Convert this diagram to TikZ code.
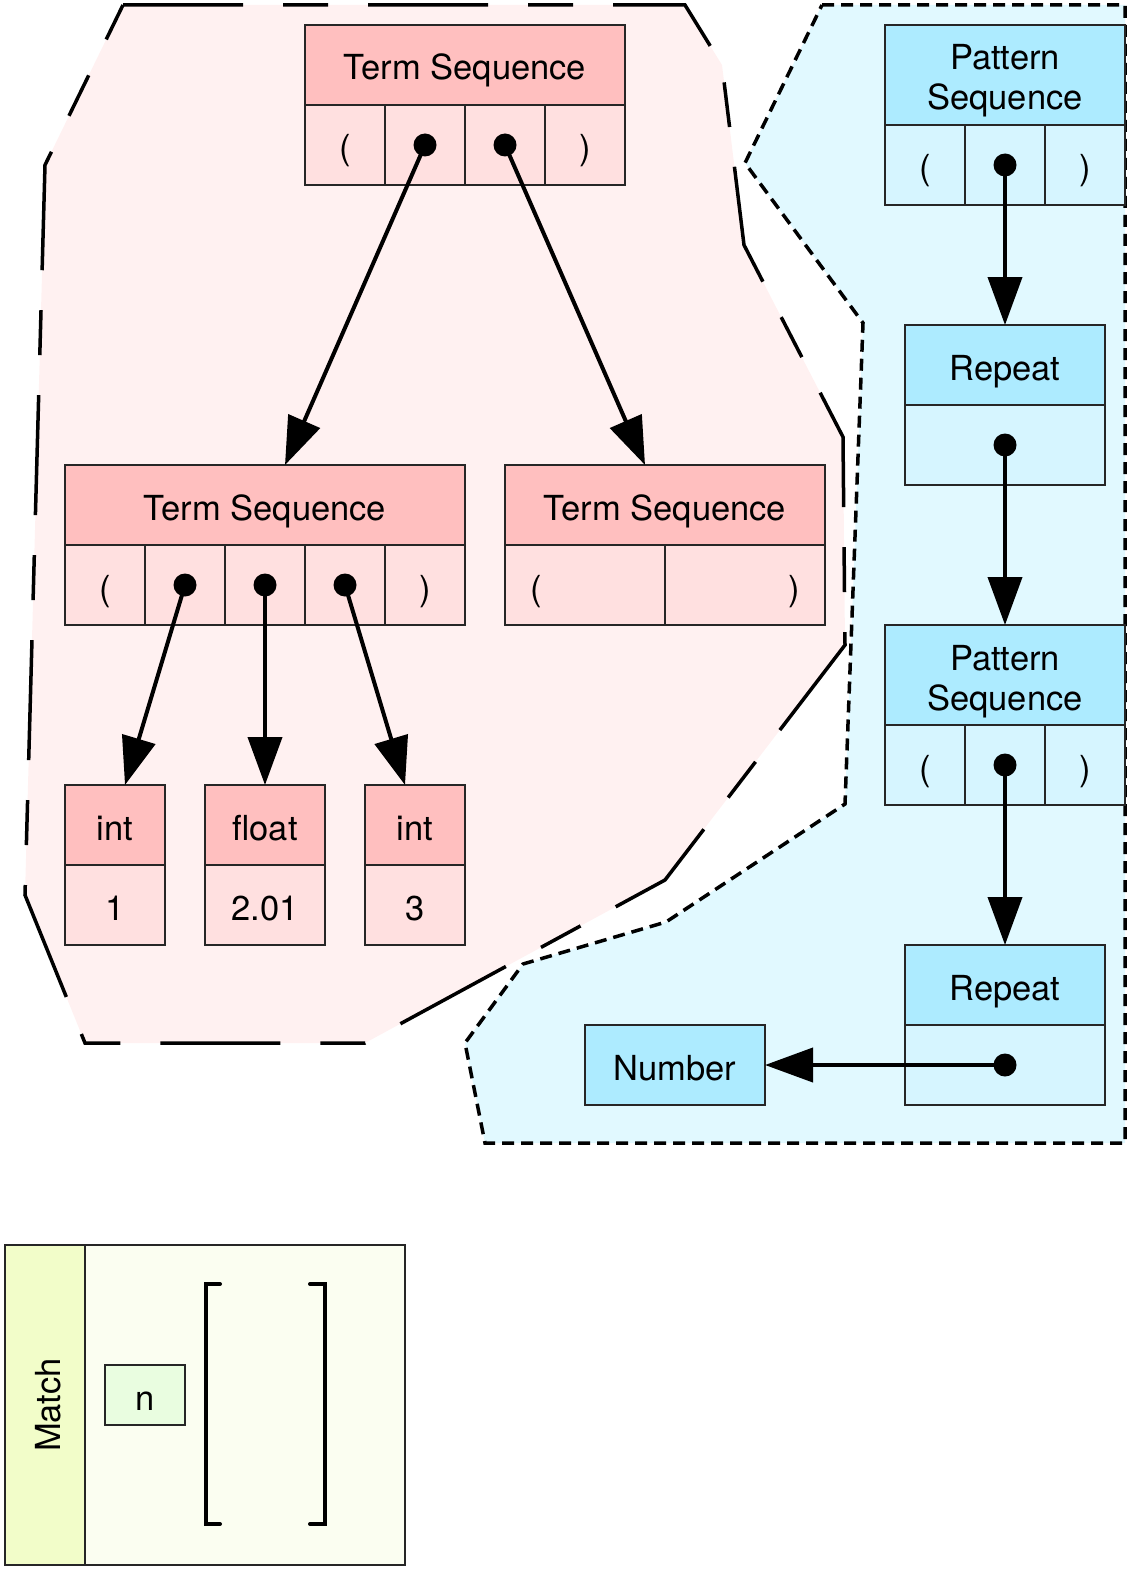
\documentclass[tikz,border=0pt]{standalone}
\usepackage{fontspec}
\setmainfont{TeX Gyre Heros}
\usetikzlibrary{arrows.meta,calc}
\definecolor{pinkH}{HTML}{FFBFBF}
\definecolor{pinkC}{HTML}{FFE0E0}
\definecolor{pinkR}{HTML}{FFF1F1}
\definecolor{blueH}{HTML}{ADEBFF}
\definecolor{blueC}{HTML}{D6F5FF}
\definecolor{blueR}{HTML}{E1F9FF}
\definecolor{matchS}{HTML}{F2FDC9}
\definecolor{matchB}{HTML}{FBFEF1}
\definecolor{nboxC}{HTML}{E9FDE0}
\newcommand\figfont{\fontsize{34.5}{40}\selectfont}
\begin{document}
\begin{tikzpicture}[x=1pt,y=-1pt,
  cell/.style={draw=black!85, line width=1.6pt, inner sep=0pt, outer sep=0pt, font=\figfont, text=black, align=center, text height=30pt, text depth=0pt},
  twoline/.style={text height=70pt, text depth=0pt},
  ph/.style={cell, fill=pinkH},
  pc/.style={cell, fill=pinkC},
  bh/.style={cell, fill=blueH},
  bc/.style={cell, fill=blueC},
  arr/.style={line width=4pt, -{Triangle[length=48pt,width=34pt]}},
  dotr/.style={fill=black}
]
\useasboundingbox (0,0) rectangle (1130,1570);
% cluster regions
\filldraw[fill=pinkR, draw=black, line width=3.5pt, dash pattern=on 120pt off 40pt on 45pt off 40pt]
  (123,5) -- (685,5) -- (722,65) -- (744,245) -- (843,437) -- (845,645) -- (665,880)
  -- (365,1043) -- (85,1043) -- (25,895) -- (45,165) -- cycle;
\filldraw[fill=blueR, draw=black, line width=3.5pt, dash pattern=on 12pt off 7pt]
  (822,5) -- (1125,5) -- (1125,1143) -- (485,1143) -- (465,1043) -- (523,964)
  -- (666,922) -- (845,804) -- (863,323) -- (745,163) -- cycle;

% Term Sequence (top)
\node[ph, minimum width=320pt, minimum height=80pt] (ts1h) at (465,65) {Term Sequence};
\node[pc, minimum width=80pt, minimum height=80pt] (ts1c1) at (345,145) {(};
\node[pc, minimum width=80pt, minimum height=80pt] (ts1c2) at (425,145) {};
\node[pc, minimum width=80pt, minimum height=80pt] (ts1c3) at (505,145) {};
\node[pc, minimum width=80pt, minimum height=80pt] (ts1c4) at (585,145) {)};

% Term Sequence (left)
\node[ph, minimum width=400pt, minimum height=80pt] (ts2h) at (265,505) {Term Sequence};
\node[pc, minimum width=80pt, minimum height=80pt] (ts2c1) at (105,585) {(};
\node[pc, minimum width=80pt, minimum height=80pt] (ts2c2) at (185,585) {};
\node[pc, minimum width=80pt, minimum height=80pt] (ts2c3) at (265,585) {};
\node[pc, minimum width=80pt, minimum height=80pt] (ts2c4) at (345,585) {};
\node[pc, minimum width=80pt, minimum height=80pt] (ts2c5) at (425,585) {)};

% Term Sequence (right)
\node[ph, minimum width=320pt, minimum height=80pt] (ts3h) at (665,505) {Term Sequence};
\node[pc, minimum width=160pt, minimum height=80pt, text width=110pt, align=left] (ts3c1) at (585,585) {(};
\node[pc, minimum width=160pt, minimum height=80pt, text width=110pt, align=right] (ts3c2) at (745,585) {)};

% leaves
\node[ph, minimum width=100pt, minimum height=80pt] (i1h) at (115,825) {int};
\node[pc, minimum width=100pt, minimum height=80pt] (i1v) at (115,905) {1};
\node[ph, minimum width=120pt, minimum height=80pt] (fh) at (265,825) {float};
\node[pc, minimum width=120pt, minimum height=80pt] (fv) at (265,905) {2.01};
\node[ph, minimum width=100pt, minimum height=80pt] (i2h) at (415,825) {int};
\node[pc, minimum width=100pt, minimum height=80pt] (i2v) at (415,905) {3};

% Pattern side
\node[bh, twoline, minimum width=240pt, minimum height=100pt] (ps1h) at (1005,75) {Pattern\\Sequence};
\node[bc, minimum width=80pt, minimum height=80pt] (ps1c1) at (925,165) {(};
\node[bc, minimum width=80pt, minimum height=80pt] (ps1c2) at (1005,165) {};
\node[bc, minimum width=80pt, minimum height=80pt] (ps1c3) at (1085,165) {)};

\node[bh, minimum width=200pt, minimum height=80pt] (rp1h) at (1005,365) {Repeat};
\node[bc, minimum width=200pt, minimum height=80pt] (rp1c) at (1005,445) {};

\node[bh, twoline, minimum width=240pt, minimum height=100pt] (ps2h) at (1005,675) {Pattern\\Sequence};
\node[bc, minimum width=80pt, minimum height=80pt] (ps2c1) at (925,765) {(};
\node[bc, minimum width=80pt, minimum height=80pt] (ps2c2) at (1005,765) {};
\node[bc, minimum width=80pt, minimum height=80pt] (ps2c3) at (1085,765) {)};

\node[bh, minimum width=200pt, minimum height=80pt] (rp2h) at (1005,985) {Repeat};
\node[bc, minimum width=200pt, minimum height=80pt] (rp2c) at (1005,1065) {};

\node[bh, minimum width=180pt, minimum height=80pt] (num) at (675,1065) {Number};

% Match
\node[cell, fill=matchB, minimum width=320pt, minimum height=320pt] (mbody) at (245,1405) {};
\node[cell, fill=matchS, minimum width=320pt, minimum height=80pt, rotate=90] (mside) at (45,1405) {Match};
\node[cell, fill=nboxC, minimum width=80pt, minimum height=60pt] (nbox) at (145,1395) {n};
\draw[line width=4pt, line cap=round] (220,1284) -- (206,1284) -- (206,1524) -- (220,1524);
\draw[line width=4pt, line cap=round] (310,1284) -- (325,1284) -- (325,1524) -- (310,1524);

% connectors
\foreach \c in {ts1c2,ts1c3,ts2c2,ts2c3,ts2c4,ps1c2,rp1c,ps2c2,rp2c}
  \fill[dotr] (\c.center) circle (11.5pt);
\draw[arr] (ts1c2.center) -- ($(ts2h.north west)!0.55!(ts2h.north east)$);
\draw[arr] (ts1c3.center) -- ($(ts3h.north west)!0.4375!(ts3h.north east)$);
\draw[arr] (ts2c2.center) -- ($(i1h.north west)!0.6!(i1h.north east)$);
\draw[arr] (ts2c3.center) -- (fh.north);
\draw[arr] (ts2c4.center) -- ($(i2h.north west)!0.4!(i2h.north east)$);
\draw[arr] (ps1c2.center) -- (rp1h.north);
\draw[arr] (rp1c.center) -- (ps2h.north);
\draw[arr] (ps2c2.center) -- (rp2h.north);
\draw[arr] (rp2c.center) -- (num.east);
\end{tikzpicture}
\end{document}
